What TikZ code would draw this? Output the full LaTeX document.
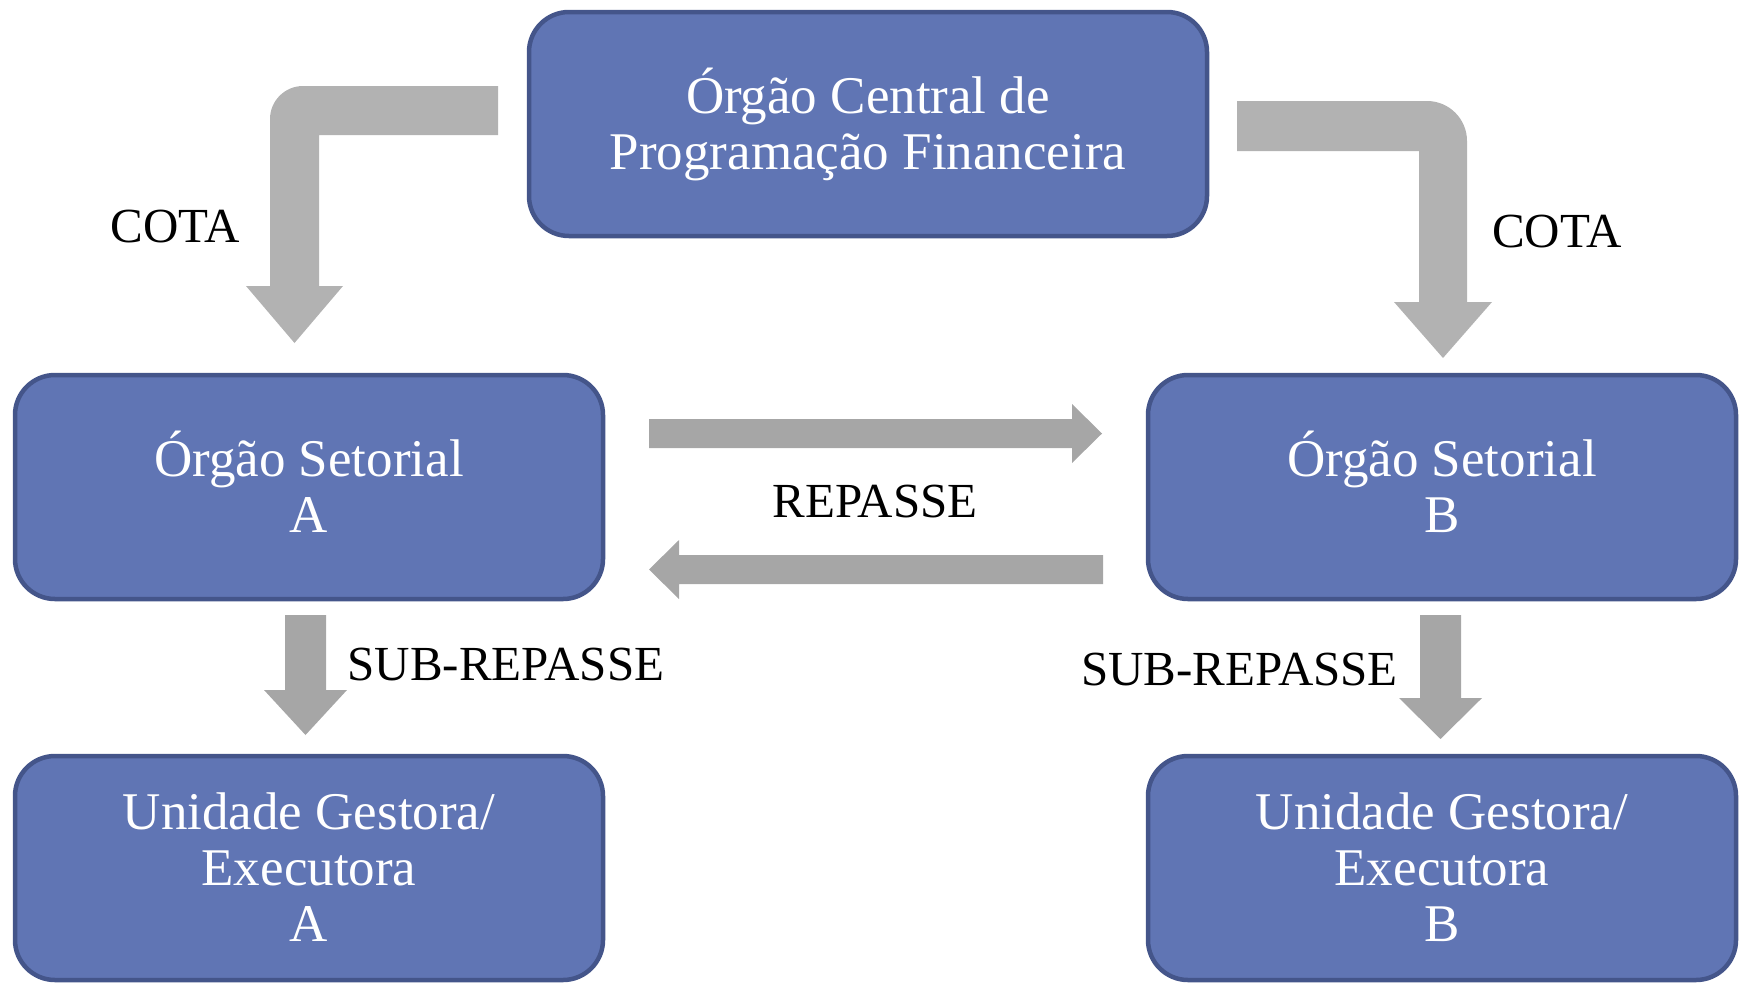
\documentclass[tikz,border=0pt]{standalone}
\usepackage{fontspec}
\setmainfont{Liberation Serif}
\definecolor{boxfill}{HTML}{6075B4}
\definecolor{boxline}{HTML}{44558A}
\definecolor{bentgray}{HTML}{B2B2B2}
\definecolor{flatgray}{HTML}{A6A6A6}
\newcommand{\btxt}[1]{\begin{tabular}[t]{@{}c@{}}#1\end{tabular}}
\begin{document}
\begin{tikzpicture}[x=1pt,y=-1pt,
  orgbox/.style={draw=boxline, fill=boxfill, line width=4.5pt, rounded corners=40pt,
    minimum width=588pt, minimum height=224pt, inner sep=0pt, text=white,
    font=\fontsize{53}{56}\selectfont, text height=34pt, text depth=56pt},
  lbl/.style={font=\fontsize{49}{56}\selectfont, anchor=base, inner sep=0pt}]
\useasboundingbox (0,0) rectangle (1744,983);

% boxes
\node[orgbox, minimum width=678pt] (central) at (868,124) {\btxt{Órgão Central de\\Programação Financeira}};
\node[orgbox] (setA) at (309,487) {\btxt{Órgão Setorial\\A}};
\node[orgbox] (setB) at (1442,487) {\btxt{Órgão Setorial\\B}};
\node[orgbox, text depth=112pt] (ugA) at (309,868) {\btxt{Unidade Gestora/\\Executora\\A}};
\node[orgbox, text depth=112pt] (ugB) at (1442,868) {\btxt{Unidade Gestora/\\Executora\\B}};

% bent arrows (COTA)
\fill[bentgray] (498,86) -- (303,86) .. controls (284.8,86) and (270,100.8) .. (270,119)
  -- (270,286) -- (246,286) -- (294.5,343) -- (343,286) -- (319,286) -- (319,135) -- (498,135) -- cycle;
\fill[bentgray] (1237,101) -- (1427,101) .. controls (1449.1,101) and (1467,118.9) .. (1467,141)
  -- (1467,302) -- (1492,302) -- (1443,358) -- (1394,302) -- (1419,302) -- (1419,151) -- (1237,151) -- cycle;

% repasse arrows
\fill[flatgray] (649,419) -- (1072,419) -- (1072,404) -- (1102,433.5) -- (1072,463) -- (1072,448) -- (649,448) -- cycle;
\fill[flatgray] (1103,555) -- (679,555) -- (679,540) -- (649,569.5) -- (679,599) -- (679,584) -- (1103,584) -- cycle;

% sub-repasse arrows
\fill[flatgray] (285,615) -- (326,615) -- (326,690) -- (347,690) -- (305.5,735) -- (264,690) -- (285,690) -- cycle;
\fill[flatgray] (1420,615) -- (1461,615) -- (1461,698) -- (1482,698) -- (1440.5,739) -- (1399,698) -- (1420,698) -- cycle;

% labels
\node[lbl] (cotaA) at (175.5,242) {COTA};
\node[lbl] (cotaB) at (1557,247) {COTA};
\node[lbl] (rep) at (875,517) {REPASSE};
\node[lbl] (subA) at (506,680) {SUB-REPASSE};
\node[lbl] (subB) at (1239.5,685) {SUB-REPASSE};
\end{tikzpicture}
\end{document}
